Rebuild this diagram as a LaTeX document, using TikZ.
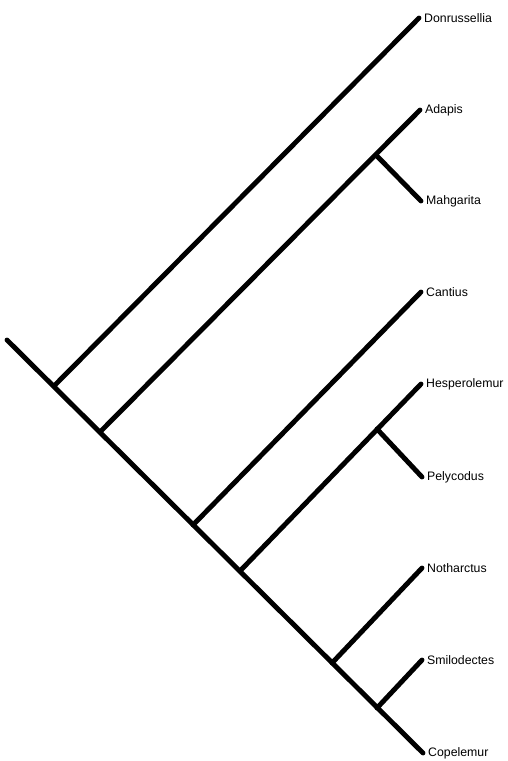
\documentclass[tikz,border=0pt]{standalone}
\usepackage{fontspec}
\setmainfont{Liberation Sans}
\usetikzlibrary{calc, positioning}

\begin{document}
\begin{tikzpicture}[x=1pt, y=-1pt,
  br/.style={line width=4.9pt, line cap=round},
  tx/.style={inner sep=0pt, font=\fontsize{12.3}{14}\selectfont}]
\useasboundingbox (0,0) rectangle (508,761);
% tips
\coordinate (t1) at (419,18);
\coordinate (t2) at (420,110);
\coordinate (t3) at (421,201);
\coordinate (t4) at (421,292);
\coordinate (t5) at (421,384);
\coordinate (t6) at (422,477);
\coordinate (t7) at (422,568);
\coordinate (t8) at (422,660);
\coordinate (t9) at (423,753);
% internal nodes
\coordinate (r) at (7,340);
\coordinate (n1) at (54,386);
\coordinate (n2) at (100,432);
\coordinate (n3) at (193,525);
\coordinate (n4) at (240,571);
\coordinate (n5) at (332,663);
\coordinate (n6) at (377,708);
\coordinate (a1) at (376,155);
\coordinate (h1) at (377,429);
% labels
\node[tx, right=5pt of t1] (L1) {Donrussellia};
\node[tx, right=5pt of t2] (L2) {Adapis};
\node[tx, right=5pt of t3] (L3) {Mahgarita};
\node[tx, right=5pt of t4] (L4) {Cantius};
\node[tx, right=5pt of t5] (L5) {Hesperolemur};
\node[tx, right=5pt of t6] (L6) {Pelycodus};
\node[tx, right=5pt of t7] (L7) {Notharctus};
\node[tx, right=5pt of t8] (L8) {Smilodectes};
\node[tx, right=5pt of t9] (L9) {Copelemur};
% branches
\draw[br] (r) -- (t9);
\draw[br] (n1) -- (t1);
\draw[br] (n2) -- (t2);
\draw[br] (a1) -- (t3);
\draw[br] (n3) -- (t4);
\draw[br] (n4) -- (t5);
\draw[br] (h1) -- (t6);
\draw[br] (n5) -- (t7);
\draw[br] (n6) -- (t8);
\end{tikzpicture}
\end{document}
